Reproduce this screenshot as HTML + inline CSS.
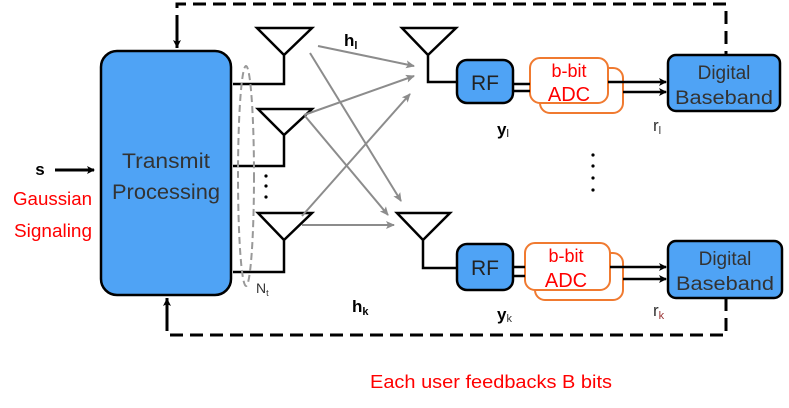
<!DOCTYPE html>
<html><head><meta charset="utf-8"><style>
html,body{margin:0;padding:0;background:#fff;}
svg{display:block;font-family:"Liberation Sans",sans-serif;}
</style></head><body>
<svg width="789" height="408" viewBox="0 0 789 408" xmlns="http://www.w3.org/2000/svg">
<defs>
<marker id="ab" markerWidth="8" markerHeight="8" refX="7" refY="4" orient="auto" markerUnits="userSpaceOnUse"><path d="M0,0 L8,4 L0,8 L2,4 z" fill="#000"/></marker>
<marker id="ag" markerWidth="9" markerHeight="8" refX="8" refY="4" orient="auto" markerUnits="userSpaceOnUse"><path d="M0,0 L9,4 L0,8 L2,4 z" fill="#8c8c8c"/></marker>
</defs>
<path d="M177,48 V4 H726 V55" fill="none" stroke="#000" stroke-width="3" stroke-dasharray="13,7"/>
<line x1="177" y1="20" x2="177" y2="47" stroke="#000" stroke-width="3" marker-end="url(#ab)"/>
<path d="M167,298 V335 H726 V298" fill="none" stroke="#000" stroke-width="3" stroke-dasharray="13,7"/>
<line x1="167" y1="320" x2="167" y2="299" stroke="#000" stroke-width="3" marker-end="url(#ab)"/>
<rect x="101" y="51" width="130" height="244" rx="16" fill="#4fa3f5" stroke="#000" stroke-width="2.5"/>
<text x="122" y="168" font-size="21" fill="#333" textLength="88" lengthAdjust="spacingAndGlyphs">Transmit</text>
<text x="112" y="199" font-size="21" fill="#333" textLength="108" lengthAdjust="spacingAndGlyphs">Processing</text>
<text x="40" y="175" font-size="17" font-weight="bold" text-anchor="middle">s</text>
<line x1="55" y1="170" x2="94" y2="170" stroke="#000" stroke-width="3" marker-end="url(#ab)"/>
<text x="13" y="205" font-size="18" fill="#f00" textLength="79" lengthAdjust="spacingAndGlyphs">Gaussian</text>
<text x="14" y="237" font-size="18" fill="#f00" textLength="78" lengthAdjust="spacingAndGlyphs">Signaling</text>
<g fill="none" stroke="#000" stroke-width="2.5">
<path d="M257,28 H312 L284,55 Z M284,55 V84 H233"/>
<path d="M258,109 H312 L284,135 Z M284,135 V166 H233"/>
<path d="M258,213 H312 L284,240 Z M284,240 V272 H233"/>
<path d="M402,28 H456 L428,55 Z M428,55 V82 H458"/>
<path d="M397,213 H450 L423,240 Z M423,240 V268 H458"/>
</g>
<ellipse cx="246" cy="176" rx="8" ry="110" fill="none" stroke="#999" stroke-width="2" stroke-dasharray="7,4"/>
<text x="256" y="293" font-size="14" fill="#333">N<tspan font-size="9" dy="3">t</tspan></text>
<circle cx="266" cy="176" r="1.6"/><circle cx="266" cy="186" r="1.6"/><circle cx="266" cy="197" r="1.6"/>
<g stroke="#8c8c8c" stroke-width="2">
<line x1="318" y1="46" x2="414" y2="66" marker-end="url(#ag)"/>
<line x1="304" y1="115" x2="414" y2="76" marker-end="url(#ag)"/>
<line x1="302" y1="216" x2="410" y2="94" marker-end="url(#ag)"/>
<line x1="310" y1="53" x2="401" y2="201" marker-end="url(#ag)"/>
<line x1="305" y1="116" x2="388" y2="215" marker-end="url(#ag)"/>
<line x1="302" y1="225" x2="394" y2="225" marker-end="url(#ag)"/>
</g>
<text x="344" y="46" font-size="17" font-weight="bold">h<tspan font-size="11" dy="3">l</tspan></text>
<text x="352" y="312" font-size="17" font-weight="bold">h<tspan font-size="11" dy="3">k</tspan></text>
<rect x="457" y="60" width="56" height="43" rx="10" fill="#4fa3f5" stroke="#000" stroke-width="2.5"/>
<text x="485" y="90" font-size="21" fill="#222" text-anchor="middle">RF</text>
<rect x="540" y="68" width="83" height="45" rx="10" fill="#fff" stroke="#f07a30" stroke-width="2"/>
<rect x="530" y="58" width="78" height="45" rx="10" fill="#fff" stroke="#f07a30" stroke-width="2"/>
<line x1="513" y1="84" x2="530" y2="84" stroke="#000" stroke-width="2.5"/>
<line x1="513" y1="91" x2="530" y2="91" stroke="#000" stroke-width="2.5"/>
<line x1="608" y1="82" x2="666" y2="82" stroke="#000" stroke-width="2.5" marker-end="url(#ab)"/>
<line x1="623" y1="92" x2="666" y2="92" stroke="#000" stroke-width="2.5" marker-end="url(#ab)"/>
<text x="569" y="77" font-size="18" fill="#f00" text-anchor="middle">b-bit</text>
<text x="569" y="101" font-size="20" fill="#f00" text-anchor="middle">ADC</text>
<rect x="668" y="55" width="112" height="56" rx="8" fill="#4fa3f5" stroke="#000" stroke-width="2.5"/>
<text x="724" y="79" font-size="19" fill="#333" text-anchor="middle">Digital</text>
<text x="724" y="104" font-size="19" fill="#333" text-anchor="middle" textLength="98" lengthAdjust="spacingAndGlyphs">Baseband</text>
<text x="497" y="135" font-size="17" font-weight="bold">y<tspan font-size="11" font-weight="normal" dy="2">l</tspan></text>
<text x="653" y="131" font-size="17" fill="#333">r<tspan font-size="11" dy="3">l</tspan></text>
<circle cx="593" cy="155" r="1.6"/><circle cx="593" cy="166" r="1.6"/><circle cx="593" cy="178" r="1.6"/><circle cx="593" cy="190" r="1.6"/>
<rect x="457" y="244" width="56" height="46" rx="10" fill="#4fa3f5" stroke="#000" stroke-width="2.5"/>
<text x="485" y="275" font-size="21" fill="#222" text-anchor="middle">RF</text>
<rect x="535" y="253" width="88" height="47" rx="10" fill="#fff" stroke="#f07a30" stroke-width="2"/>
<rect x="525" y="243" width="85" height="47" rx="10" fill="#fff" stroke="#f07a30" stroke-width="2"/>
<line x1="513" y1="267" x2="525" y2="267" stroke="#000" stroke-width="2.5"/>
<line x1="513" y1="276" x2="525" y2="276" stroke="#000" stroke-width="2.5"/>
<line x1="610" y1="267" x2="666" y2="267" stroke="#000" stroke-width="2.5" marker-end="url(#ab)"/>
<line x1="623" y1="279" x2="666" y2="279" stroke="#000" stroke-width="2.5" marker-end="url(#ab)"/>
<text x="566" y="262" font-size="18" fill="#f00" text-anchor="middle">b-bit</text>
<text x="566" y="287" font-size="20" fill="#f00" text-anchor="middle">ADC</text>
<rect x="668" y="241" width="114" height="57" rx="8" fill="#4fa3f5" stroke="#000" stroke-width="2.5"/>
<text x="725" y="265" font-size="19" fill="#333" text-anchor="middle">Digital</text>
<text x="725" y="290" font-size="19" fill="#333" text-anchor="middle" textLength="98" lengthAdjust="spacingAndGlyphs">Baseband</text>
<text x="497" y="320" font-size="17" font-weight="bold">y<tspan font-size="11" font-weight="normal" fill="#333" dy="2">k</tspan></text>
<text x="653" y="316" font-size="17" fill="#333">r<tspan font-size="11" fill="#933" dy="3">k</tspan></text>
<text x="370" y="388" font-size="18" fill="#f00" textLength="242" lengthAdjust="spacingAndGlyphs">Each user feedbacks B bits</text>
</svg>
</body></html>
